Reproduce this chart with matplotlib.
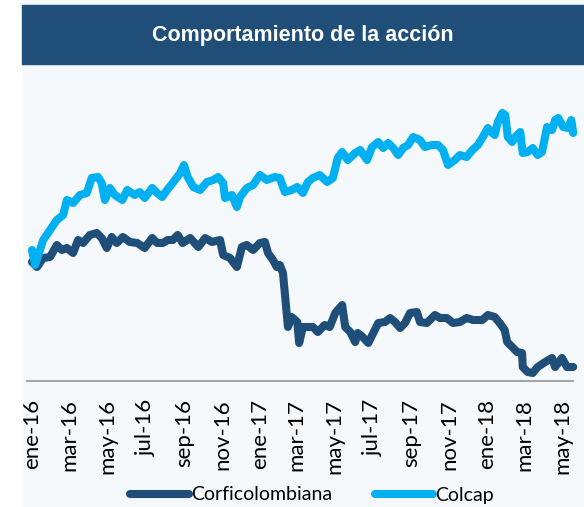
import numpy as np
import pandas as pd
import matplotlib
matplotlib.use('Agg')
import matplotlib.pyplot as plt
from matplotlib.patches import Rectangle

# dias desde 2016-01-01 y nivel (base 100)
dias_corfi = [0, 8, 18, 29, 40, 48, 56, 66, 74, 82, 93, 104, 112, 120, 128, 136, 146, 157, 169, 181,
              193, 201, 210, 218, 226, 234, 242, 254, 267, 278, 289, 302, 307, 318, 329, 337, 345, 355,
              366, 374, 379, 387, 393, 398, 403, 411, 417, 426, 429, 435, 443, 451, 459, 470, 478, 487,
              498, 503, 511, 519, 523, 531, 540, 548, 556, 567, 575, 583, 591, 599, 607, 618, 623, 634,
              647, 655, 666, 676, 687, 698, 708, 723, 732, 743, 751, 759, 763, 771, 779, 787, 788, 796,
              804, 812, 824, 835, 840, 851, 859, 869]
corficolombiana = [100.0, 98.5, 101.2, 101.5, 105.1, 103.6, 104.2, 102.7, 106.6, 105.7, 108.1, 108.7,
                   107.2, 104.2, 107.5, 105.7, 107.5, 106.0, 105.7, 104.2, 107.2, 105.7, 105.7, 106.6,
                   106.6, 108.1, 105.7, 107.2, 104.5, 107.2, 106.0, 106.6, 102.1, 101.2, 98.5, 104.5,
                   105.1, 103.6, 105.7, 106.0, 102.7, 100.6, 98.5, 99.1, 96.7, 80.5, 83.5, 82.0, 75.7,
                   80.5, 80.5, 80.5, 79.0, 81.1, 80.5, 84.7, 87.1, 80.5, 79.0, 76.0, 78.7, 77.5, 75.7,
                   78.7, 81.7, 82.0, 83.2, 82.0, 80.2, 81.7, 84.7, 85.0, 82.0, 81.7, 84.1, 83.2, 83.2,
                   81.7, 82.0, 83.2, 82.6, 82.6, 84.1, 83.5, 81.7, 79.6, 76.0, 74.5, 73.0, 72.7, 68.5,
                   67.0, 66.7, 68.5, 70.0, 71.2, 68.5, 71.2, 68.5, 68.5]

dias_colcap = [0, 5, 18, 29, 40, 50, 56, 66, 77, 88, 96, 106, 112, 117, 125, 133, 145, 153, 165, 173,
               181, 193, 201, 209, 217, 226, 238, 244, 250, 259, 270, 281, 291, 299, 307, 310, 321, 329,
               334, 345, 355, 366, 377, 390, 398, 406, 417, 426, 435, 443, 451, 462, 474, 483, 491, 498,
               507, 519, 527, 538, 546, 556, 564, 572, 580, 588, 596, 604, 612, 623, 631, 642, 652, 660,
               668, 679, 687, 698, 707, 716, 724, 732, 739, 743, 748, 755, 760, 764, 771, 776, 784, 788,
               796, 804, 812, 819, 827, 835, 840, 845, 853, 861, 866, 869]
colcap = [103.6, 99.1, 106.6, 109.6, 112.6, 114.1, 118.6, 117.7, 120.1, 120.7, 125.2, 125.5, 123.7,
          118.6, 122.2, 120.1, 118.6, 121.6, 120.1, 121.0, 119.2, 122.2, 120.7, 119.5, 121.6, 123.7,
          126.7, 129.1, 125.5, 122.5, 121.6, 124.0, 124.6, 125.5, 123.7, 119.2, 120.1, 116.5, 119.5,
          122.2, 123.1, 126.1, 124.6, 125.5, 125.2, 121.0, 121.6, 122.5, 120.7, 124.0, 125.2, 126.1,
          124.0, 125.2, 131.2, 133.0, 130.6, 132.7, 133.6, 130.6, 134.5, 136.0, 134.2, 135.7, 134.2,
          132.1, 134.2, 135.1, 137.5, 136.6, 134.5, 135.1, 135.1, 133.6, 129.1, 130.6, 132.1, 131.5,
          133.6, 135.1, 137.5, 140.2, 138.7, 138.1, 142.0, 144.7, 144.1, 137.5, 136.0, 137.5, 139.0,
          132.7, 133.0, 134.2, 132.1, 133.0, 140.5, 139.6, 142.6, 143.2, 140.5, 140.2, 142.6, 138.7]

meses = ['ene-16', 'mar-16', 'may-16', 'jul-16', 'sep-16', 'nov-16', 'ene-17', 'mar-17',
         'may-17', 'jul-17', 'sep-17', 'nov-17', 'ene-18', 'mar-18', 'may-18']

inicio = pd.Timestamp('2016-01-01')
fechas_corfi = inicio + pd.to_timedelta(dias_corfi, unit='D')
fechas_colcap = inicio + pd.to_timedelta(dias_colcap, unit='D')
ticks = pd.date_range('2016-01-01', periods=len(meses), freq='2MS')

azul_osc = '#1f4e79'
azul_cla = '#00b0f0'
fondo = '#f5f9fc'

W, H = 584, 507
fig = plt.figure(figsize=(W / 100, H / 100), dpi=100, facecolor=fondo)

# franja blanca a la izquierda y barra del titulo
fig.patches.append(Rectangle((0, 0), 22 / W, 1, transform=fig.transFigure, color='white', zorder=0))
fig.patches.append(Rectangle((22 / W, (H - 64) / H), 1 - 22 / W, 59 / H, transform=fig.transFigure,
                             color=azul_osc, zorder=1))
fig.text(303 / W, 1 - 35 / H, 'Comportamiento de la acción', color='white', ha='center', va='center',
         fontsize=15.5, fontweight='bold', family=['Liberation Sans', 'DejaVu Sans'])

ax = fig.add_axes([27 / W, (H - 381) / H, (573 - 27) / W, (381 - 70) / H])
ax.set_facecolor('none')
ax.plot(fechas_corfi, corficolombiana, color=azul_osc, lw=5.8, solid_capstyle='round',
        solid_joinstyle='round', label='Corficolombiana', clip_on=False)
ax.plot(fechas_colcap, colcap, color=azul_cla, lw=5.8, solid_capstyle='round',
        solid_joinstyle='round', label='Colcap', clip_on=False)

ax.set_xlim(inicio - pd.Timedelta(days=8), inicio + pd.Timedelta(days=868.7))
ax.set_ylim(64.3, 157.6)
ax.set_xticks(ticks)
ax.set_xticklabels(meses, rotation=90, fontsize=16, family=['Lato', 'DejaVu Sans'])
ax.tick_params(axis='x', length=0, pad=13)
ax.set_yticks([])
for s in ['top', 'left', 'right']:
    ax.spines[s].set_visible(False)
ax.spines['bottom'].set_color('#a6a6a6')
ax.spines['bottom'].set_linewidth(1.5)

fig.legend(loc='center', bbox_to_anchor=(312 / W, 1 - 495 / H), ncol=2, frameon=False,
           prop={'family': ['Lato', 'DejaVu Sans'], 'size': 14}, handlelength=3.0,
           handletextpad=0.1, columnspacing=2.2)

plt.savefig('out.png', dpi=100, facecolor=fondo)
